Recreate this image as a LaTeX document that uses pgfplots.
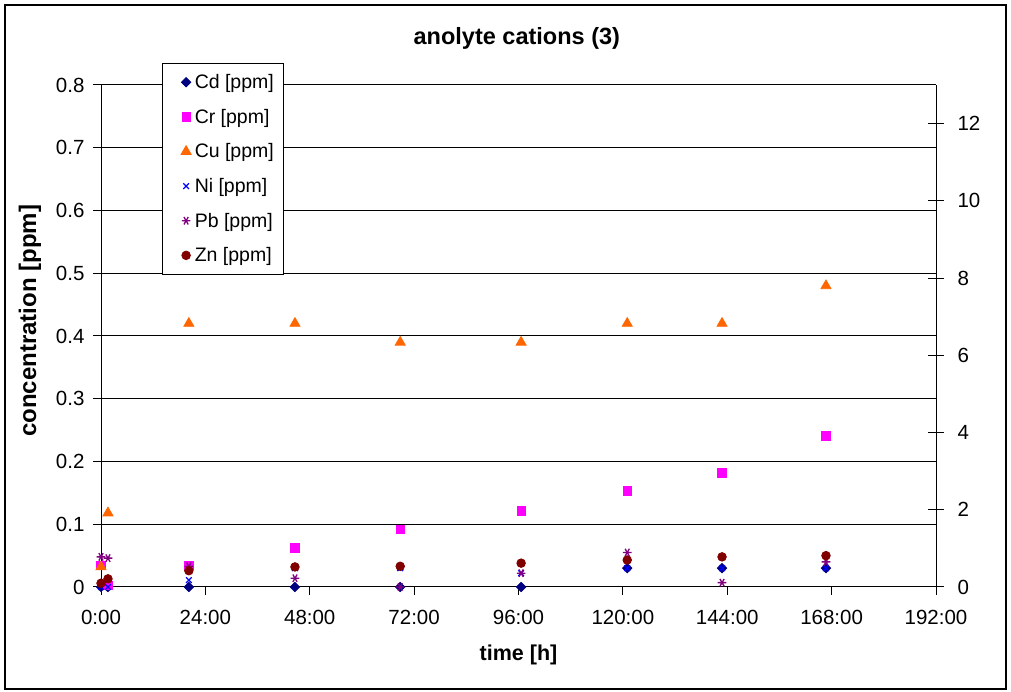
\documentclass[border=0pt]{standalone}
\usepackage{fontspec}
\setmainfont{Liberation Sans}
\usepackage{pgfplots}
\pgfplotsset{compat=1.18}
\definecolor{cdc}{HTML}{000080}
\definecolor{crc}{HTML}{FF00FF}
\definecolor{cuc}{HTML}{FF6600}
\definecolor{nic}{HTML}{0000FF}
\definecolor{pbc}{HTML}{800080}
\definecolor{znc}{HTML}{800000}
\begin{document}
\begin{tikzpicture}[x=1pt,y=1pt]
\useasboundingbox (0,0) rectangle (1011,692);
\draw[line width=1.2pt] (5,3) rectangle (1006,687);
\begin{axis}[
  at={(101pt,105pt)}, anchor=south west,
  scale only axis, width=835pt, height=502pt,
  xmin=0, xmax=192, ymin=0, ymax=0.8,
  axis x line*=bottom, axis y line*=left,
  axis line style={line width=1pt, -},
  xtick={0,24,...,192},
  xticklabels={0:00,24:00,48:00,72:00,96:00,120:00,144:00,168:00,192:00},
  ytick={0,0.1,...,0.8},
  yticklabels={0,0.1,0.2,0.3,0.4,0.5,0.6,0.7,0.8},
  tick align=outside, major tick length=8pt,
  tick style={line width=1pt, black},
  ymajorgrids, grid style={line width=1pt, black},
  tick label style={font=\fontsize{20.5}{24}\selectfont},
  xticklabel style={yshift=-12pt},
  yticklabel style={xshift=-5pt},
  /pgf/number format/assume math mode=true,
  title={anolyte cations (3)},
  title style={font=\bfseries\fontsize{23.5}{27}\selectfont, at={(rel axis cs:0.498,1.08)}, anchor=center},
  xlabel={time [h]},
  xlabel style={font=\bfseries\fontsize{21.5}{25}\selectfont, at={(rel axis cs:0.5,-0.135)}, anchor=center},
  ylabel={concentration [ppm]},
  ylabel style={font=\bfseries\fontsize{24}{28}\selectfont, at={(rel axis cs:-0.085,0.53)}, anchor=center, rotate=0},
  legend style={at={(rel axis cs:0.073,1.044)}, anchor=north west, draw=black, line width=1pt, fill=white,
    font=\fontsize{19.5}{22}\selectfont, row sep=15pt, inner xsep=8pt, inner ysep=9pt},
  legend cell align=left,
  legend image code/.code={\path (0pt,0pt) (21pt,0pt); \draw[#1] plot coordinates {(15pt,0pt)};},
  every axis plot/.append style={only marks, line width=0.8pt},
  clip=false,
]
\addplot[mark=square*, mark size=3.3pt, color=cdc, mark options={rotate=45}] coordinates {
 (0,0) (1.6,0) (20.2,0) (44.6,0) (68.8,0) (96.6,0) (121,0.03) (142.8,0.03) (166.7,0.03)};
\addlegendentry{Cd [ppm]}
\addplot[mark=square*, mark size=4.2pt, color=crc] coordinates {
 (0,0.034) (1.6,0.003) (20.2,0.034) (44.6,0.062) (68.8,0.092) (96.6,0.121) (121,0.153) (142.8,0.182) (166.7,0.241)};
\addlegendentry{Cr [ppm]}
\addplot[mark=triangle*, mark size=5.8pt, color=cuc] coordinates {
 (0,0.032) (1.6,0.118) (20.2,0.42) (44.6,0.42) (68.8,0.39) (96.6,0.39) (121,0.42) (142.8,0.42) (166.7,0.48)};
\addlegendentry{Cu [ppm]}
\addplot[mark=x, mark size=4pt, color=nic, line width=1.3pt] coordinates {
 (0,0) (1.6,0) (20.2,0.011) (44.6,0.03) (68.8,0.03) (96.6,0.022) (121,0.03) (142.8,0.03) (166.7,0.03)};
\addlegendentry{Ni [ppm]}
\addplot[mark=asterisk, mark size=4.3pt, color=pbc, line width=1.3pt, mark options={rotate=90}] coordinates {
 (0,0.048) (1.6,0.046) (20.2,0.033) (44.6,0.014) (68.8,0) (96.6,0.022) (121,0.055) (142.8,0.007) (166.7,0.04)};
\addlegendentry{Pb [ppm]}
\addplot[mark=*, mark size=4.3pt, color=znc] coordinates {
 (0,0.006) (1.6,0.013) (20.2,0.026) (44.6,0.032) (68.8,0.033) (96.6,0.038) (121,0.043) (142.8,0.048) (166.7,0.05)};
\addlegendentry{Zn [ppm]}
\end{axis}
\begin{axis}[
  at={(101pt,105pt)}, anchor=south west,
  scale only axis, width=835pt, height=502pt,
  xmin=0, xmax=192, ymin=0, ymax=13,
  axis x line=none, axis y line*=right,
  axis line style={line width=1pt, -},
  ytick={0,2,...,12},
  tick align=center, major tick length=16pt,
  tick style={line width=1pt, black},
  tick label style={font=\fontsize{20.5}{24}\selectfont},
  yticklabel style={xshift=10pt},
  /pgf/number format/assume math mode=true,
]
\end{axis}
\end{tikzpicture}
\end{document}
